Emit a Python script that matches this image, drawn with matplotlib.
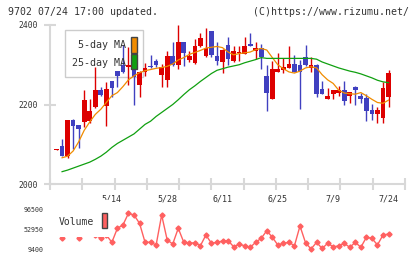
import numpy as np
import matplotlib
matplotlib.use("Agg")
import matplotlib.pyplot as plt
from matplotlib.patches import Rectangle

nan = np.nan

# daily candles (index 0 = first trading day shown)
opens = [2086, 2096, 2070, 2161, 2148, 2157, 2159, 2194, 2236, 2196,
         2259, 2284, 2299, 2294, 2297, 2250, 2282, 2295, 2309, 2273,
         2262, 2322, 2299, 2357, 2313, 2305, 2346, 2322, 2385, 2322,
         2306, 2349, 2309, 2330, 2328, 2351, 2335, 2342, 2272, 2215,
         2282, 2288, 2293, 2301, 2299, 2320, 2293, 2300, 2240, 2215,
         2227, 2229, 2237, 2221, 2244, 2221, 2216, 2187, 2177, 2167, 2219]
closes = [2086, 2070, 2161, 2146, 2138, 2211, 2184, 2236, 2224, 2239,
          2241, 2272, 2283, 2299, 2268, 2283, 2293, 2294, 2300, 2294,
          2321, 2299, 2357, 2330, 2322, 2347, 2368, 2342, 2325, 2309,
          2338, 2315, 2335, 2331, 2347, 2347, 2342, 2320, 2230, 2289,
          2289, 2294, 2301, 2282, 2282, 2299, 2299, 2227, 2227, 2221,
          2236, 2237, 2209, 2231, 2237, 2215, 2184, 2177, 2187, 2242, 2278]
highs = [2087, 2113, 2161, 2163, 2149, 2236, 2214, 2295, 2243, 2257,
         2260, 2285, 2350, 2345, 2300, 2285, 2305, 2324, 2315, 2303,
         2335, 2356, 2399, 2358, 2335, 2366, 2380, 2392, 2386, 2356,
         2340, 2370, 2347, 2347, 2370, 2380, 2357, 2353, 2300, 2309,
         2330, 2317, 2347, 2324, 2311, 2350, 2320, 2301, 2258, 2241,
         2237, 2247, 2258, 2232, 2246, 2228, 2227, 2202, 2194, 2257, 2288]
lows = [2085, 2070, 2065, 2088, 2090, 2143, 2153, 2190, 2222, 2146,
        2218, 2245, 2279, 2250, 2199, 2218, 2272, 2293, 2294, 2244,
        2244, 2298, 2290, 2296, 2307, 2303, 2344, 2320, 2319, 2299,
        2278, 2299, 2307, 2309, 2326, 2346, 2315, 2290, 2183, 2214,
        2281, 2278, 2292, 2281, 2189, 2298, 2282, 2219, 2226, 2214,
        2215, 2221, 2200, 2204, 2200, 2204, 2159, 2162, 2153, 2153, 2194]

ma5 = [nan, 2066, 2070, 2083, 2106, 2135, 2156, 2175, 2188, 2205,
       2222, 2230, 2245, 2262, 2272, 2280, 2285, 2288, 2291, 2293,
       2296, 2302, 2312, 2318, 2326, 2331, 2336, 2342, 2344, 2346,
       2343, 2332, 2325, 2328, 2330, 2332, 2338, 2341, 2337, 2318,
       2300, 2290, 2282, 2279, 2284, 2292, 2295, 2292, 2275, 2262,
       2253, 2236, 2229, 2227, 2226, 2230, 2222, 2213, 2205, 2203, 2211]
ma25 = [nan, 2031, 2035, 2040, 2045, 2050, 2055, 2062, 2070, 2080,
        2092, 2102, 2110, 2118, 2126, 2138, 2150, 2158, 2170, 2180,
        2190, 2200, 2212, 2225, 2237, 2247, 2258, 2268, 2278, 2286,
        2290, 2294, 2297, 2300, 2305, 2309, 2313, 2318, 2316, 2316,
        2316, 2316, 2316, 2316, 2316, 2316, 2316, 2314, 2307, 2302,
        2297, 2292, 2288, 2284, 2281, 2277, 2272, 2267, 2261, 2257, 2255]

volume = [50000, 32900, 50000, 45000, 34200, 96500, 48000, 40000, 32900, 40000,
          24100, 54800, 62100, 87700, 84000, 65800, 24100, 24100, 18200, 84000,
          29100, 20400, 54800, 24100, 21900, 23200, 16600, 40100, 21900, 24100,
          26900, 28000, 14400, 19700, 16600, 13100, 24100, 32900, 49600, 35100,
          18200, 21900, 24100, 16600, 59900, 23200, 9400, 24100, 10500, 21900,
          14400, 16000, 21900, 13100, 24100, 13100, 35100, 32900, 18200, 40100, 42300]

date_labels = ['5/14', '5/28', '6/11', '6/25', '7/9', '7/24']
date_index = [10, 20, 30, 40, 50, 60]

W, H = 420, 259
MONO = 'DejaVu Sans Mono'
RED = '#dd0000'
BLUE = '#4040c0'
AXC = '#d8d8d8'
TXT = '#333333'


def box(x0, y0, x1, y1):
    # pixel box (top-left origin) -> figure fraction rect
    return [x0 / W, 1 - y1 / H, (x1 - x0) / W, (y1 - y0) / H]


fig = plt.figure(figsize=(W / 100, H / 100), dpi=100)
ax = fig.add_axes(box(50, 25, 405, 184))
vax = fig.add_axes(box(50, 209.3, 405, 249))
ax.patch.set_visible(False)
vax.patch.set_visible(False)

x = np.arange(len(opens))
o = np.array(opens)
c = np.array(closes)
cols = [RED if cc >= oo else BLUE for oo, cc in zip(o, c)]

ax.vlines(x, lows, highs, colors=cols, lw=1, zorder=2)
ax.bar(x, np.maximum(np.abs(c - o), 2.5), bottom=np.minimum(o, c),
       width=0.85, color=cols, zorder=3)
ax.plot(x, ma5, color='#f08c00', lw=0.9, zorder=4)
ax.plot(x, ma25, color='#10a010', lw=0.9, zorder=4)

xlim = (-1.18, 62.98)
ax.set_xlim(*xlim)
ax.set_ylim(2000, 2400)
for s in ['top', 'right']:
    ax.spines[s].set_visible(False)
for s in ['left', 'bottom']:
    ax.spines[s].set_color(AXC)
    ax.spines[s].set_linewidth(1.5)

ax.set_yticks([2000, 2200, 2400])
ax.tick_params(axis='y', direction='inout', length=8, width=1.5, color=AXC,
               labelsize=5.8, labelcolor=TXT, pad=4.8)
ax.set_xticks(np.linspace(xlim[0], xlim[1], 12))
ax.set_xticks(date_index, minor=True)
ax.set_xticklabels([])
ax.set_xticklabels(date_labels, minor=True)
ax.tick_params(axis='x', which='major', direction='inout', length=8,
               width=1.5, color=AXC)
ax.tick_params(axis='x', which='minor', length=0, labelsize=6,
               labelcolor=TXT, pad=7.6)
for t in ax.get_xticklabels(minor=True) + ax.get_yticklabels():
    t.set_family(MONO)

# volume
vax.plot(x, volume, color='#ff6060', lw=1, marker='D', ms=2.6,
         clip_on=False)
vax.set_xlim(*xlim)
vax.set_ylim(9400, 96500)
vax.set_xticks([])
vax.set_yticks([9400, 52950, 96500])
vax.tick_params(axis='y', length=0, labelsize=4.8, labelcolor=TXT, pad=4.3)
for t in vax.get_yticklabels():
    t.set_family(MONO)
for s in vax.spines.values():
    s.set_visible(False)

# main legend
r = box(65, 30, 143.3, 77.3)
fig.add_artist(Rectangle((r[0], r[1]), r[2], r[3], transform=fig.transFigure,
                         facecolor='white', edgecolor='#cccccc', lw=1, zorder=-1))
fig.text(126 / W, 1 - 45 / H, '5-day MA', ha='right', va='center',
         family=MONO, size=7.2, color=TXT, zorder=5)
fig.text(126 / W, 1 - 63.3 / H, '25-day MA', ha='right', va='center',
         family=MONO, size=7.2, color=TXT, zorder=5)
for (y0, y1), fc in [((37.3, 52.7), '#f08c00'), ((54, 69.3), '#10a010')]:
    r = box(131, y0, 137.3, y1)
    fig.add_artist(Rectangle((r[0], r[1]), r[2], r[3], transform=fig.transFigure,
                             facecolor=fc, edgecolor='#444444', lw=1, zorder=5))

# volume legend
r = box(52, 200, 110, 237)
fig.add_artist(Rectangle((r[0], r[1]), r[2], r[3], transform=fig.transFigure,
                         facecolor='white', edgecolor='none', zorder=5))
fig.text(58.7 / W, 1 - 222.3 / H, 'Volume', ha='left', va='center',
         family=MONO, size=7.0, color=TXT, zorder=6)
r = box(101.7, 213, 107.3, 228)
fig.add_artist(Rectangle((r[0], r[1]), r[2], r[3], transform=fig.transFigure,
                         facecolor='#ff6060', edgecolor='#444444', lw=1, zorder=6))

fig.text(8.3 / W, 1 - 12 / H, '9702 07/24 17:00 updated.', ha='left',
         va='center', family=MONO, size=7.1, color=TXT)
fig.text(409 / W, 1 - 12 / H, '(C)https://www.rizumu.net/', ha='right',
         va='center', family=MONO, size=7.1, color=TXT)

fig.savefig('out.png', dpi=100)
